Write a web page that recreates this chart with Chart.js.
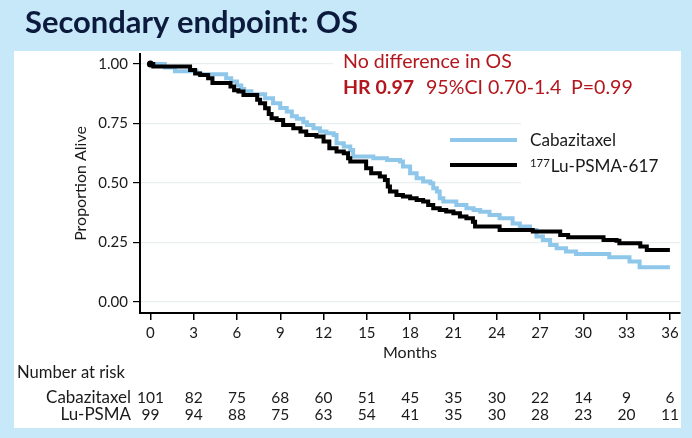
<!DOCTYPE html>
<html>
<head>
<meta charset="utf-8">
<script src="https://cdn.jsdelivr.net/npm/chart.js@4.4.1/dist/chart.umd.min.js"></script>
<style>
  html, body { margin: 0; padding: 0; background: #c6e8f8; }
  #wrap { position: relative; width: 692px; height: 438px; }
</style>
</head>
<body>
<div id="wrap"><canvas id="km" width="692" height="438"></canvas></div>
<script>
// x ticks (months) and y ticks
const months = [0, 3, 6, 9, 12, 15, 18, 21, 24, 27, 30, 33, 36];
const yTicks = [0, 0.25, 0.5, 0.75, 1];

// number at risk
const riskLabels = ["Cabazitaxel", "Lu-PSMA"];
const riskCaba = [101, 82, 75, 68, 60, 51, 45, 35, 30, 22, 14, 9, 6];
const riskLu = [99, 94, 88, 75, 63, 54, 41, 35, 30, 28, 23, 20, 11];

// Kaplan-Meier steps (month, survival after the step)
const luT = [0, 0.2, 2.75, 3.1, 3.45, 4.0, 4.3, 5.55, 5.8, 6.1, 6.45, 7.4, 7.6, 7.95, 8.2, 8.4, 8.75, 9.2, 9.9,
  10.4, 10.8, 11.5, 12.0, 12.4, 12.9, 13.4, 13.7, 13.85, 14.95, 15.3, 15.9, 16.25, 16.45, 16.6, 17.05, 17.5,
  18.0, 18.45, 18.9, 19.25, 19.6, 20.05, 20.5, 21.0, 21.45, 21.9, 22.35, 22.5, 24.2, 26.5, 28.4, 28.95,
  31.4, 32.3, 32.5, 33.95, 34.4, 36];
const luS = [1.0, 0.99, 0.975, 0.96, 0.954, 0.94, 0.92, 0.905, 0.89, 0.884, 0.87, 0.85, 0.835, 0.814, 0.79, 0.772, 0.765, 0.744, 0.73,
  0.716, 0.702, 0.695, 0.674, 0.646, 0.632, 0.625, 0.604, 0.59, 0.562, 0.541, 0.527, 0.513, 0.485, 0.464, 0.45, 0.443,
  0.436, 0.429, 0.422, 0.408, 0.394, 0.387, 0.38, 0.373, 0.359, 0.352, 0.337, 0.317, 0.303, 0.296, 0.282, 0.272,
  0.261, 0.258, 0.247, 0.233, 0.219, 0.219];

const cabaT = [0, 1.0, 1.7, 3.2, 3.4, 5.25, 5.6, 6.0, 6.3, 6.5, 7.0, 7.95, 8.5, 9.0, 9.45, 9.8, 10.15, 10.6, 10.85,
  11.3, 11.75, 12.2, 12.7, 12.9, 13.4, 13.85, 14.05, 15.45, 16.4, 17.3, 17.5, 18.0, 18.45, 18.9, 19.4, 19.6,
  19.85, 20.05, 20.3, 21.2, 21.9, 22.4, 22.85, 23.5, 24.2, 25.1, 25.6, 26.3, 26.75, 27.2, 27.7, 28.15, 28.8,
  29.5, 31.8, 33.2, 33.9, 36];
const cabaS = [1.0, 0.985, 0.97, 0.962, 0.957, 0.94, 0.926, 0.91, 0.895, 0.885, 0.873, 0.856, 0.835, 0.815, 0.8, 0.78, 0.77, 0.755, 0.744,
  0.73, 0.716, 0.709, 0.702, 0.667, 0.653, 0.639, 0.611, 0.604, 0.597, 0.59, 0.569, 0.541, 0.52, 0.506, 0.499, 0.478,
  0.464, 0.436, 0.422, 0.408, 0.394, 0.387, 0.379, 0.366, 0.352, 0.33, 0.317, 0.303, 0.275, 0.261, 0.24, 0.226, 0.212,
  0.202, 0.188, 0.17, 0.146, 0.146];

const FONT = "Lato";
const RED = "#b3161c";
const BLUE = "#8ec7e9";

// font size that makes text span a given width
function fitSize(ctx, text, weight, width) {
  ctx.font = `${weight} 20px ${FONT}`;
  return 20 * width / ctx.measureText(text).width;
}

const slide = {
  id: "slide",
  beforeDraw(chart) {
    const ctx = chart.ctx;
    ctx.save();
    ctx.fillStyle = "#c6e8f8";
    ctx.fillRect(0, 0, chart.width, chart.height);
    ctx.fillStyle = "#ffffff";
    ctx.fillRect(14, 51, 667, 377);
    const title = "Secondary endpoint: OS";
    const s = fitSize(ctx, title, "bold", 333);
    ctx.font = `bold ${s}px ${FONT}`;
    ctx.fillStyle = "#0c1b3d";
    ctx.textBaseline = "alphabetic";
    ctx.fillText(title, 25, 33);
    ctx.restore();
  },
  beforeDatasetsDraw(chart) {
    // white boxes behind the note and the legend hide the grid
    const ctx = chart.ctx;
    ctx.save();
    ctx.fillStyle = "#ffffff";
    ctx.fillRect(333, 52, 348, 48);
    ctx.fillRect(521, 110, 160, 85);
    ctx.restore();
  },
  afterDatasetsDraw(chart) {
    const ctx = chart.ctx;
    const x = chart.scales.x;
    ctx.save();
    ctx.textBaseline = "alphabetic";

    // note
    const ns = fitSize(ctx, "No difference in OS", "normal", 169);
    ctx.fillStyle = RED;
    ctx.font = `${ns}px ${FONT}`;
    ctx.fillText("No difference in OS", 343, 68);
    ctx.font = `bold ${ns}px ${FONT}`;
    ctx.fillText("HR 0.97", 343, 94);
    ctx.font = `${ns}px ${FONT}`;
    ctx.fillText("95%CI 0.70-1.4", 426, 94);
    ctx.fillText("P=0.99", 571, 94);

    // legend
    ctx.lineWidth = 4;
    ctx.strokeStyle = BLUE;
    ctx.beginPath(); ctx.moveTo(450, 140); ctx.lineTo(517, 140); ctx.stroke();
    ctx.strokeStyle = "#000";
    ctx.beginPath(); ctx.moveTo(450, 165); ctx.lineTo(517, 165); ctx.stroke();
    const ls = fitSize(ctx, "Cabazitaxel", "normal", 86);
    ctx.fillStyle = "#1a1a1a";
    ctx.font = `${ls}px ${FONT}`;
    ctx.fillText("Cabazitaxel", 530, 146);
    ctx.font = `${ls * 0.66}px ${FONT}`;
    ctx.fillText("177", 530, 167);
    const supW = ctx.measureText("177").width;
    ctx.font = `${ls}px ${FONT}`;
    ctx.fillText("Lu-PSMA-617", 530 + supW + 1, 172);

    // number at risk table
    ctx.fillStyle = "#1a1a1a";
    ctx.textAlign = "left";
    ctx.font = `${fitSize(ctx, "Number at risk", "normal", 108)}px ${FONT}`;
    ctx.fillText("Number at risk", 17, 378);
    ctx.textAlign = "right";
    ctx.font = `${fitSize(ctx, "Cabazitaxel", "normal", 85)}px ${FONT}`;
    ctx.fillText(riskLabels[0], 131, 403);
    ctx.fillText(riskLabels[1], 131, 420);
    ctx.textAlign = "center";
    ctx.font = `15.5px ${FONT}`;
    months.forEach((m, i) => {
      const px = x.getPixelForValue(m);
      ctx.fillText(String(riskCaba[i]), px, 403);
      ctx.fillText(String(riskLu[i]), px, 420);
    });
    ctx.restore();
  }
};

const ctx = document.getElementById("km").getContext("2d");
new Chart(ctx, {
  type: "line",
  data: {
    datasets: [
      {
        label: "177Lu-PSMA-617",
        data: luT.map((t, i) => ({ x: t, y: luS[i] })),
        borderColor: "#000000",
        borderWidth: 4,
        stepped: true,
        borderJoinStyle: "miter",
        pointRadius: luT.map((t, i) => (i === 0 ? 3.5 : 0)),
        pointBackgroundColor: "#000000",
        pointBorderWidth: 0,
        fill: false,
      },
      {
        label: "Cabazitaxel",
        data: cabaT.map((t, i) => ({ x: t, y: cabaS[i] })),
        borderColor: BLUE,
        borderWidth: 4,
        stepped: true,
        borderJoinStyle: "miter",
        pointRadius: 0,
        fill: false,
      },
    ],
  },
  options: {
    responsive: false,
    animation: false,
    events: [],
    layout: { padding: { left: 71, top: 54, right: 12, bottom: 0 } },
    plugins: { legend: { display: false }, tooltip: { enabled: false } },
    scales: {
      x: {
        type: "linear",
        min: -0.72,
        max: 36.7,
        afterBuildTicks: (s) => { s.ticks = months.map((v) => ({ value: v })); },
        afterFit: (s) => { s.height = 125; },
        grid: { drawOnChartArea: false, drawTicks: true, tickLength: 7, tickColor: "#000", lineWidth: 1.5 },
        border: { display: true, color: "#000", width: 2 },
        ticks: { color: "#1a1a1a", font: { family: FONT, size: 15 }, padding: 4, maxRotation: 0, autoSkip: false },
        title: { display: true, text: "Months", color: "#1a1a1a", font: { family: FONT, size: 16 }, padding: { top: 0, bottom: 76 } },
      },
      y: {
        min: -0.046,
        max: 1.042,
        afterBuildTicks: (s) => { s.ticks = yTicks.map((v) => ({ value: v })); },
        afterFit: (s) => { s.width = 69; },
        grid: { color: "#e9eeee", lineWidth: 1.2, tickLength: 7, tickColor: "#000" },
        border: { display: true, color: "#000", width: 2 },
        ticks: { color: "#1a1a1a", font: { family: FONT, size: 15 }, padding: 5, callback: (v) => v.toFixed(2) },
        title: { display: true, text: "Proportion Alive", color: "#1a1a1a", font: { family: FONT, size: 16 }, padding: { top: 0, bottom: 0 } },
      },
    },
  },
  plugins: [slide],
});
</script>
</body>
</html>
